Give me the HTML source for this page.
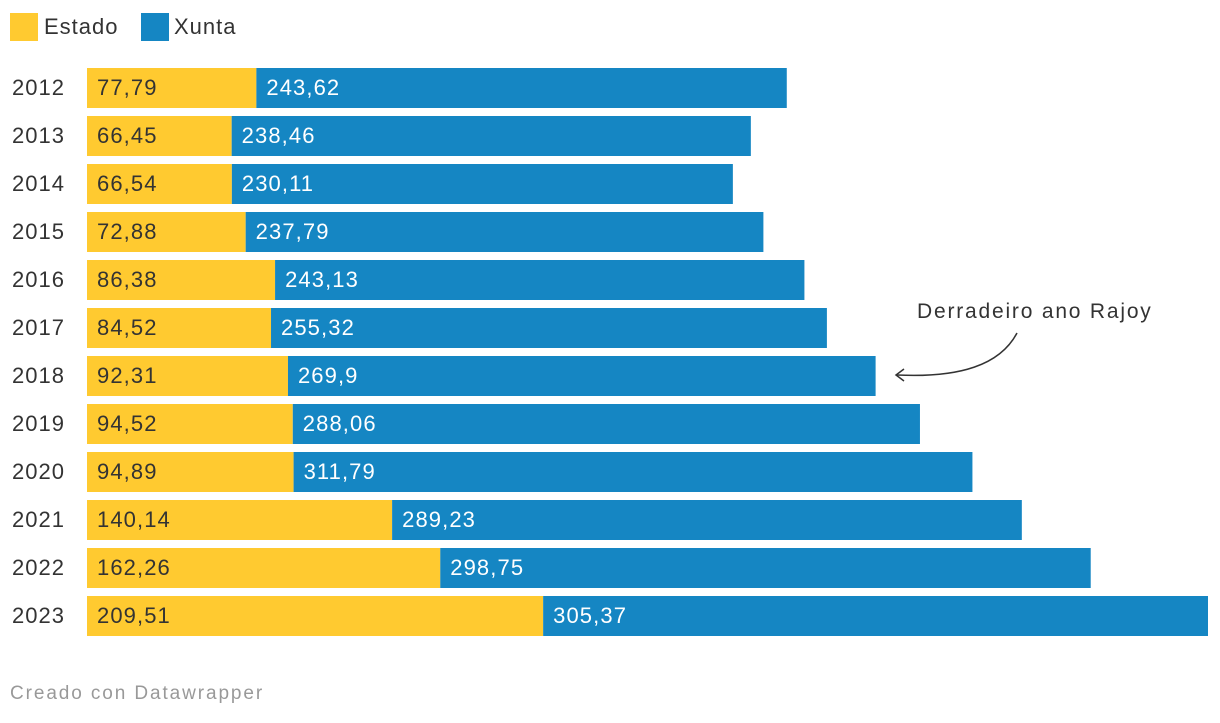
<!DOCTYPE html>
<html><head><meta charset="utf-8"><style>
body{margin:0;background:#fff;width:1220px;height:718px;overflow:hidden;font-family:"Liberation Sans",sans-serif}
</style></head><body>
<svg id="c" width="1220" height="718">
<g>
<rect x="10" y="13" width="28" height="28" fill="#ffca30"/>
<text x="44" y="34" font-size="22" letter-spacing="1" fill="#333">Estado</text>
<rect x="141" y="13" width="28" height="28" fill="#1586c3"/>
<text x="174" y="34" font-size="22" letter-spacing="1" fill="#333">Xunta</text>
</g>
<g id="bars"></g>
<g>
<text x="917" y="318" font-size="21" letter-spacing="1.8" fill="#333">Derradeiro ano Rajoy</text>
<path d="M1017,333 C1000,365 960,378 897,375" fill="none" stroke="#333" stroke-width="1.5"/>
<path d="M904,369 L896,375 L904,381" fill="none" stroke="#333" stroke-width="1.5"/>
</g>
<text x="10" y="699" font-size="19" letter-spacing="1.9" fill="#999">Creado con Datawrapper</text>
</svg>
<script>
const years=["2012","2013","2014","2015","2016","2017","2018","2019","2020","2021","2022","2023"];
const estado=[77.79,66.45,66.54,72.88,86.38,84.52,92.31,94.52,94.89,140.14,162.26,209.51];
const xunta=[243.62,238.46,230.11,237.79,243.13,255.32,269.9,288.06,311.79,289.23,298.75,305.37];
const x0=87,scale=(1208-87)/(209.51+305.37);
const xs=v=>x0+v*scale;
const ns="http://www.w3.org/2000/svg",g=document.getElementById("bars");
const fmt=v=>String(v).replace(".",",");
function mk(tag,attrs,txt){const e=document.createElementNS(ns,tag);for(const k in attrs)e.setAttribute(k,attrs[k]);if(txt!=null)e.textContent=txt;g.appendChild(e);return e;}
years.forEach((y,i)=>{
 const top=68+i*48;
 let t=mk("text",{x:12,y:top+27,"font-size":22,"letter-spacing":1,fill:"#333"},y);
 
 
 let r=mk("rect",{x:x0,y:top,width:xs(estado[i])-x0,height:40,fill:"#ffca30"});
 
 
 let r2=mk("rect",{x:xs(estado[i]),y:top,width:xs(estado[i]+xunta[i])-xs(estado[i]),height:40,fill:"#1586c3"});
 
 
 let l1=mk("text",{x:x0+10,y:top+27,"font-size":22,"letter-spacing":1.1,fill:"#333"},fmt(estado[i]));
 
 
 let l2=mk("text",{x:xs(estado[i])+10,y:top+27,"font-size":22,"letter-spacing":1.1,fill:"#fff"},fmt(xunta[i]));
 
 
});
</script>
</body></html>
